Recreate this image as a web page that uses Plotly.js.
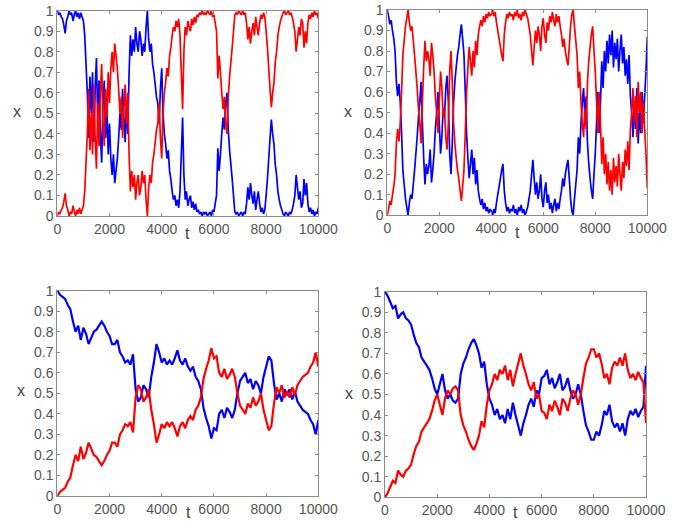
<!DOCTYPE html>
<html>
<head>
<meta charset="utf-8">
<script src="https://cdn.plot.ly/plotly-3.0.1.min.js"></script>
<style>html,body{margin:0;padding:0;background:#fff}#chart{width:688px;height:523px}</style>
</head>
<body>
<div id="chart"></div>
<script>
// Top panels: samples every 50 time units (t = 0..10000)
var tlBlue = [
1.00,0.98,0.99,0.97,0.96,0.93,0.89,0.95,0.97,1.00,
0.98,0.99,0.95,0.98,1.00,0.97,0.99,0.96,0.99,0.97,
0.95,0.88,0.74,0.60,0.38,0.68,0.50,0.70,0.36,0.62,
0.77,0.45,0.66,0.40,0.26,0.55,0.66,0.38,0.52,0.30,
0.45,0.28,0.20,0.30,0.16,0.22,0.28,0.38,0.50,0.42,
0.62,0.48,0.36,0.55,0.40,0.70,0.88,0.78,0.86,0.80,
0.92,0.84,0.80,0.90,0.86,0.78,0.84,0.80,0.92,1.00,
0.86,0.80,0.84,0.74,0.70,0.64,0.58,0.55,0.45,0.62,
0.72,0.50,0.40,0.35,0.28,0.32,0.22,0.18,0.12,0.08,
0.10,0.05,0.08,0.04,0.12,0.30,0.48,0.20,0.08,0.12,
0.05,0.08,0.10,0.04,0.07,0.03,0.06,0.02,0.03,0.01,
0.02,0.00,0.02,0.01,0.02,0.00,0.01,0.02,0.00,0.03,
0.02,0.06,0.10,0.33,0.22,0.30,0.40,0.48,0.42,0.55,
0.60,0.42,0.32,0.25,0.18,0.10,0.02,0.01,0.02,0.00,
0.01,0.02,0.00,0.02,0.01,0.06,0.14,0.08,0.16,0.10,
0.06,0.12,0.03,0.08,0.12,0.06,0.02,0.04,0.01,0.03,
0.10,0.18,0.28,0.38,0.47,0.40,0.35,0.25,0.20,0.12,
0.08,0.05,0.03,0.01,0.00,0.02,0.01,0.00,0.02,0.01,
0.03,0.06,0.10,0.20,0.14,0.08,0.12,0.04,0.06,0.18,
0.10,0.16,0.06,0.02,0.04,0.01,0.03,0.00,0.02,0.01,
0.04];
var tlRed = [
0.00,0.02,0.01,0.03,0.04,0.07,0.11,0.05,0.03,0.00,
0.02,0.01,0.05,0.02,0.00,0.03,0.01,0.04,0.01,0.03,
0.05,0.12,0.26,0.40,0.62,0.32,0.50,0.30,0.64,0.38,
0.23,0.55,0.34,0.60,0.74,0.45,0.34,0.62,0.48,0.70,
0.55,0.72,0.80,0.70,0.84,0.78,0.72,0.62,0.50,0.58,
0.38,0.52,0.64,0.45,0.60,0.30,0.12,0.22,0.14,0.20,
0.08,0.16,0.20,0.10,0.14,0.22,0.16,0.20,0.08,0.00,
0.14,0.20,0.16,0.26,0.30,0.36,0.42,0.45,0.55,0.38,
0.28,0.50,0.60,0.65,0.72,0.68,0.78,0.82,0.88,0.92,
0.90,0.95,0.92,0.96,0.88,0.70,0.52,0.80,0.92,0.88,
0.95,0.92,0.90,0.96,0.93,0.97,0.94,0.98,0.97,0.99,
0.98,1.00,0.98,0.99,0.98,1.00,0.99,0.98,1.00,0.97,
0.98,0.94,0.90,0.67,0.78,0.70,0.60,0.52,0.58,0.45,
0.40,0.58,0.68,0.75,0.82,0.90,0.98,0.99,0.98,1.00,
0.99,0.98,1.00,0.98,0.99,0.94,0.86,0.92,0.84,0.90,
0.94,0.88,0.97,0.92,0.88,0.94,0.98,0.96,0.99,0.97,
0.90,0.82,0.72,0.62,0.53,0.60,0.65,0.75,0.80,0.88,
0.92,0.95,0.97,0.99,1.00,0.98,0.99,1.00,0.98,0.99,
0.97,0.94,0.90,0.80,0.86,0.92,0.88,0.96,0.94,0.82,
0.90,0.84,0.94,0.98,0.96,0.99,0.97,1.00,0.98,0.99,
0.96];
var trBlue = [
1.00,0.97,0.93,0.95,0.90,0.86,0.80,0.65,0.58,0.64,
0.55,0.40,0.22,0.15,0.08,0.04,0.00,0.06,0.10,0.08,
0.15,0.22,0.30,0.38,0.48,0.55,0.65,0.45,0.28,0.15,
0.25,0.20,0.24,0.32,0.16,0.22,0.30,0.42,0.50,0.60,
0.45,0.30,0.38,0.52,0.48,0.62,0.68,0.55,0.30,0.20,
0.35,0.55,0.65,0.72,0.78,0.82,0.88,0.93,0.86,0.78,
0.60,0.40,0.28,0.18,0.25,0.32,0.20,0.28,0.15,0.22,
0.12,0.08,0.05,0.08,0.03,0.06,0.02,0.04,0.01,0.03,
0.02,0.00,0.03,0.01,0.06,0.10,0.14,0.18,0.22,0.25,
0.12,0.06,0.02,0.04,0.01,0.03,0.02,0.05,0.01,0.03,
0.00,0.04,0.02,0.05,0.01,0.03,0.00,0.02,0.04,0.08,
0.12,0.20,0.27,0.18,0.10,0.16,0.08,0.12,0.20,0.08,
0.04,0.12,0.16,0.06,0.10,0.03,0.06,0.01,0.05,0.08,
0.02,0.06,0.03,0.08,0.12,0.18,0.14,0.20,0.24,0.27,
0.18,0.08,0.02,0.00,0.08,0.15,0.22,0.38,0.30,0.45,
0.55,0.62,0.48,0.58,0.35,0.25,0.18,0.12,0.08,0.20,
0.30,0.45,0.60,0.40,0.55,0.75,0.62,0.80,0.70,0.85,
0.74,0.88,0.78,0.90,0.72,0.84,0.76,0.86,0.70,0.80,
0.88,0.74,0.82,0.68,0.76,0.64,0.78,0.58,0.50,0.38,
0.55,0.42,0.62,0.35,0.50,0.40,0.60,0.45,0.58,0.70,
0.87];
var trRed = [
0.00,0.03,0.07,0.05,0.10,0.14,0.20,0.35,0.42,0.36,
0.45,0.60,0.78,0.85,0.92,0.96,1.00,0.94,0.90,0.92,
0.85,0.78,0.70,0.62,0.52,0.45,0.35,0.55,0.72,0.85,
0.75,0.80,0.76,0.68,0.84,0.78,0.70,0.58,0.50,0.40,
0.55,0.70,0.62,0.48,0.52,0.38,0.32,0.45,0.70,0.80,
0.65,0.45,0.35,0.28,0.22,0.18,0.12,0.07,0.14,0.22,
0.40,0.60,0.72,0.82,0.75,0.68,0.80,0.72,0.85,0.78,
0.88,0.92,0.95,0.92,0.97,0.94,0.98,0.96,0.99,0.97,
0.98,1.00,0.97,0.99,0.94,0.90,0.86,0.82,0.78,0.75,
0.88,0.94,0.98,0.96,0.99,0.97,0.98,0.95,0.99,0.97,
1.00,0.96,0.98,0.95,0.99,0.97,1.00,0.98,0.96,0.92,
0.88,0.80,0.73,0.82,0.90,0.84,0.92,0.88,0.80,0.92,
0.96,0.88,0.84,0.94,0.90,0.97,0.94,0.99,0.95,0.92,
0.98,0.94,0.97,0.92,0.88,0.82,0.86,0.80,0.76,0.73,
0.82,0.92,0.98,1.00,0.92,0.85,0.78,0.62,0.70,0.55,
0.45,0.38,0.52,0.42,0.65,0.75,0.82,0.88,0.92,0.80,
0.70,0.55,0.40,0.60,0.45,0.25,0.38,0.20,0.30,0.15,
0.26,0.12,0.22,0.10,0.28,0.16,0.24,0.14,0.30,0.20,
0.12,0.26,0.18,0.32,0.24,0.36,0.22,0.42,0.50,0.62,
0.45,0.58,0.38,0.65,0.50,0.60,0.40,0.55,0.42,0.30,
0.13];
// Bottom panels: samples every 100 time units (t = 0..10000)
var blBlue = [
1.00,0.98,0.97,0.96,0.93,0.91,0.85,0.80,0.83,0.76,
0.82,0.79,0.74,0.77,0.80,0.81,0.83,0.85,0.83,0.80,
0.78,0.74,0.74,0.76,0.70,0.68,0.65,0.66,0.64,0.69,
0.52,0.46,0.48,0.54,0.52,0.48,0.58,0.65,0.74,0.70,
0.65,0.67,0.64,0.66,0.64,0.67,0.71,0.66,0.64,0.67,
0.63,0.61,0.63,0.58,0.56,0.52,0.43,0.38,0.34,0.28,
0.33,0.32,0.40,0.42,0.38,0.43,0.41,0.38,0.42,0.50,
0.56,0.58,0.60,0.55,0.57,0.52,0.56,0.54,0.50,0.58,
0.63,0.68,0.66,0.55,0.47,0.50,0.46,0.52,0.49,0.52,
0.47,0.51,0.46,0.44,0.42,0.41,0.40,0.37,0.35,0.30,
0.37];
var blRed = [
0.00,0.02,0.03,0.04,0.07,0.09,0.15,0.20,0.17,0.24,
0.18,0.21,0.26,0.23,0.20,0.19,0.17,0.15,0.17,0.20,
0.22,0.26,0.26,0.24,0.30,0.32,0.35,0.34,0.36,0.31,
0.48,0.54,0.52,0.46,0.48,0.52,0.42,0.35,0.26,0.30,
0.35,0.33,0.36,0.34,0.36,0.33,0.29,0.34,0.36,0.33,
0.37,0.39,0.37,0.42,0.44,0.48,0.57,0.62,0.66,0.72,
0.67,0.68,0.60,0.58,0.62,0.57,0.59,0.62,0.58,0.50,
0.44,0.42,0.40,0.45,0.43,0.48,0.44,0.46,0.50,0.42,
0.37,0.32,0.34,0.45,0.53,0.50,0.54,0.48,0.51,0.48,
0.53,0.49,0.54,0.56,0.58,0.59,0.60,0.63,0.65,0.70,
0.63];
var brBlue = [
1.00,0.98,0.95,0.92,0.93,0.87,0.89,0.90,0.87,0.86,
0.84,0.79,0.75,0.73,0.68,0.66,0.64,0.62,0.58,0.53,
0.50,0.55,0.60,0.52,0.48,0.50,0.47,0.46,0.48,0.60,
0.65,0.68,0.72,0.75,0.77,0.74,0.70,0.63,0.66,0.55,
0.48,0.45,0.40,0.43,0.38,0.40,0.36,0.43,0.38,0.46,
0.40,0.35,0.30,0.36,0.40,0.45,0.48,0.44,0.52,0.50,
0.58,0.59,0.62,0.55,0.58,0.53,0.56,0.60,0.52,0.54,
0.58,0.52,0.48,0.50,0.55,0.50,0.42,0.35,0.32,0.28,
0.28,0.32,0.30,0.35,0.42,0.40,0.45,0.37,0.34,0.36,
0.32,0.36,0.30,0.38,0.42,0.40,0.43,0.39,0.42,0.44,
0.64];
var brRed = [
0.00,0.02,0.05,0.08,0.07,0.13,0.11,0.10,0.13,0.14,
0.16,0.21,0.25,0.27,0.32,0.34,0.36,0.38,0.42,0.47,
0.50,0.45,0.40,0.48,0.52,0.50,0.53,0.54,0.52,0.40,
0.35,0.32,0.28,0.25,0.23,0.26,0.30,0.37,0.34,0.45,
0.52,0.55,0.60,0.57,0.62,0.60,0.64,0.57,0.62,0.54,
0.60,0.65,0.70,0.64,0.60,0.55,0.52,0.56,0.48,0.50,
0.42,0.41,0.38,0.45,0.42,0.47,0.44,0.40,0.48,0.46,
0.42,0.48,0.52,0.50,0.45,0.50,0.58,0.65,0.68,0.72,
0.72,0.68,0.70,0.65,0.58,0.60,0.55,0.63,0.66,0.64,
0.68,0.64,0.70,0.62,0.58,0.60,0.57,0.61,0.58,0.56,
0.36];

var BLUE = '#0000ff', RED = '#ff0000';
function tr(y, dx, color, xa, ya, w) {
  return {type:'scatter', mode:'lines', y:y, x0:0, dx:dx,
    line:{color:color, width:w, simplify:false},
    xaxis:xa, yaxis:ya, hoverinfo:'skip', showlegend:false};
}
var data = [
  tr(tlBlue, 50, BLUE, 'x', 'y', 1.7),   tr(tlRed, 50, RED, 'x', 'y', 1.7),
  tr(trBlue, 50, BLUE, 'x2', 'y2', 1.7), tr(trRed, 50, RED, 'x2', 'y2', 1.7),
  tr(blBlue, 100, BLUE, 'x3', 'y3', 2.2), tr(blRed, 100, RED, 'x3', 'y3', 2.2),
  tr(brBlue, 100, BLUE, 'x4', 'y4', 2.2), tr(brRed, 100, RED, 'x4', 'y4', 2.2)
];

var tickFont = {family:'Liberation Sans, Arial, sans-serif', size:14, color:'#555555'};
function xax(dom, anchor) {
  return {domain:dom, anchor:anchor, range:[0,10000], dtick:2000, tick0:0, tickformat:'d',
    showline:true, linecolor:'#8c8c8c', linewidth:1, mirror:'ticks',
    ticks:'inside', ticklen:3, tickcolor:'#8c8c8c', showgrid:false, zeroline:false,
    tickfont:tickFont, fixedrange:true};
}
function yax(dom, anchor) {
  return {domain:dom, anchor:anchor, range:[0,1], dtick:0.1, tick0:0,
    showline:true, linecolor:'#8c8c8c', linewidth:1, mirror:'ticks',
    ticks:'inside', ticklen:3, tickcolor:'#8c8c8c', showgrid:false, zeroline:false,
    tickfont:tickFont, fixedrange:true};
}
var labFont = {family:'Liberation Sans, Arial, sans-serif', size:16, color:'#444444'};
function lab(text, x, y) {
  return {text:text, x:x/688, y:1 - y/523, xref:'paper', yref:'paper',
    showarrow:false, font:labFont, xanchor:'center', yanchor:'middle'};
}
var layout = {
  width:688, height:523,
  margin:{l:0, r:0, t:0, b:0},
  paper_bgcolor:'#ffffff', plot_bgcolor:'#ffffff',
  showlegend:false,
  xaxis:  xax([0.0833, 0.4627], 'y'),
  yaxis:  yax([0.587, 0.9795], 'x'),
  xaxis2: xax([0.5629, 0.9408], 'y2'),
  yaxis2: yax([0.5884, 0.9809], 'x2'),
  xaxis3: xax([0.0833, 0.4627], 'y3'),
  yaxis3: yax([0.0516, 0.4442], 'x3'),
  xaxis4: xax([0.5596, 0.9390], 'y4'),
  yaxis4: yax([0.0491, 0.4423], 'x4'),
  annotations:[
    lab('x', 17, 111), lab('t', 187, 233),
    lab('x', 348, 111), lab('t', 517, 232),
    lab('x', 21, 390), lab('t', 188, 512),
    lab('x', 349, 393), lab('t', 515, 512)
  ]
};
Plotly.newPlot('chart', data, layout, {staticPlot:true, displayModeBar:false});
</script>
</body>
</html>
